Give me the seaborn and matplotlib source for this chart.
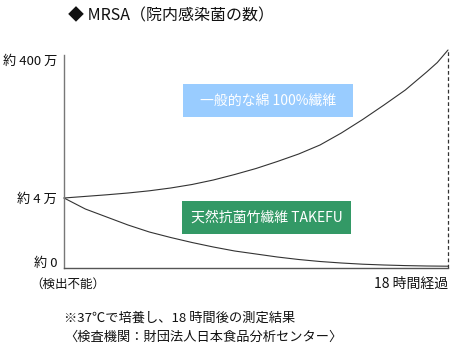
import matplotlib
matplotlib.use("Agg")
import matplotlib.pyplot as plt
import seaborn as sns
import pandas as pd
from matplotlib.patches import Rectangle

# ---- data (y in relative display units) ----
hours = [0, 1, 2, 3, 4, 5, 6, 7, 8, 9, 10, 11, 12, 13, 14, 15, 16, 17, 17.5, 18]
cotton_level = [70, 71.6, 73.2, 75, 77.2, 80, 83.5, 88, 93.5, 99.5, 106.5, 114,
                123, 135, 148.5, 163, 178, 196, 205.5, 218]
takefu_level = [70, 59, 51, 43, 36, 30.5, 25.5, 21, 17, 14, 11, 8.5,
                6.5, 5, 3.8, 3, 2.4, 2, 1.9, 1.8]
ytick_pos = [6, 70, 208]
ytick_labels = ["約 0", "約 4 万", "約 400 万"]
label_cotton = "一般的な綿 100%繊維"
label_takefu = "天然抗菌竹繊維 TAKEFU"
title = "◆ MRSA（院内感染菌の数）"
x_left_label = "（検出不能）"
x_right_label = "18 時間経過"
note1 = "※37℃で培養し、18 時間後の測定結果"
note2 = "〈検査機関：財団法人日本食品分析センター〉"

sns.set_theme(style="white")
plt.rcParams["font.family"] = ["Noto Sans CJK JP", "DejaVu Sans"]

W, H = 452, 355
fig = plt.figure(figsize=(W / 100, H / 100), dpi=100)
ax = fig.add_axes([64 / W, 87 / H, 384 / W, 218 / H])

df = pd.concat([
    pd.DataFrame({"h": hours, "v": cotton_level, "s": "cotton"}),
    pd.DataFrame({"h": hours, "v": takefu_level, "s": "takefu"}),
])
sns.lineplot(data=df, x="h", y="v", units="s", estimator=None, color="#333333",
             linewidth=0.8, ax=ax, clip_on=False, legend=False)

ax.set_xlim(0, 18)
ax.set_ylim(0, 218)
ax.axvline(18, color="#333333", linestyle=(0, (3, 2)), linewidth=0.9, clip_on=False)

for s in ["top", "right"]:
    ax.spines[s].set_visible(False)
ax.spines["left"].set_color("#777777")
ax.spines["bottom"].set_color("#555555")
ax.spines["left"].set_linewidth(1.0)
ax.spines["bottom"].set_linewidth(1.0)
ax.spines["left"].set_bounds(0, 213)

ax.set_xticks([])
ax.set_yticks(ytick_pos)
ax.set_yticklabels(ytick_labels)
ax.tick_params(axis="y", length=0, pad=5, labelsize=9.5, labelcolor="#111111")
ax.set_xlabel("")
ax.set_ylabel("")

# label boxes
ax.add_patch(Rectangle((5.58, 151), 7.97, 33, facecolor="#99ccff", edgecolor="none"))
ax.text(9.57, 167.5, label_cotton, color="white", ha="center", va="center", fontsize=10)
ax.add_patch(Rectangle((5.53, 34), 7.92, 33, facecolor="#339966", edgecolor="none"))
ax.text(9.49, 50.5, label_takefu, color="white", ha="center", va="center", fontsize=10)

fig.text(68 / W, 1 - 16 / H, title, ha="left", va="center", fontsize=11.5, color="#111111")
fig.text(30 / W, 1 - 284 / H, x_left_label, ha="left", va="center", fontsize=9, color="#111111")
fig.text(448 / W, 1 - 284 / H, x_right_label, ha="right", va="center", fontsize=10, color="#111111")
fig.text(64 / W, 1 - 318 / H, note1, ha="left", va="center", fontsize=9.5, color="#111111")
fig.text(64 / W, 1 - 337 / H, note2, ha="left", va="center", fontsize=9.5, color="#111111")

fig.savefig("out.png", dpi=100)
